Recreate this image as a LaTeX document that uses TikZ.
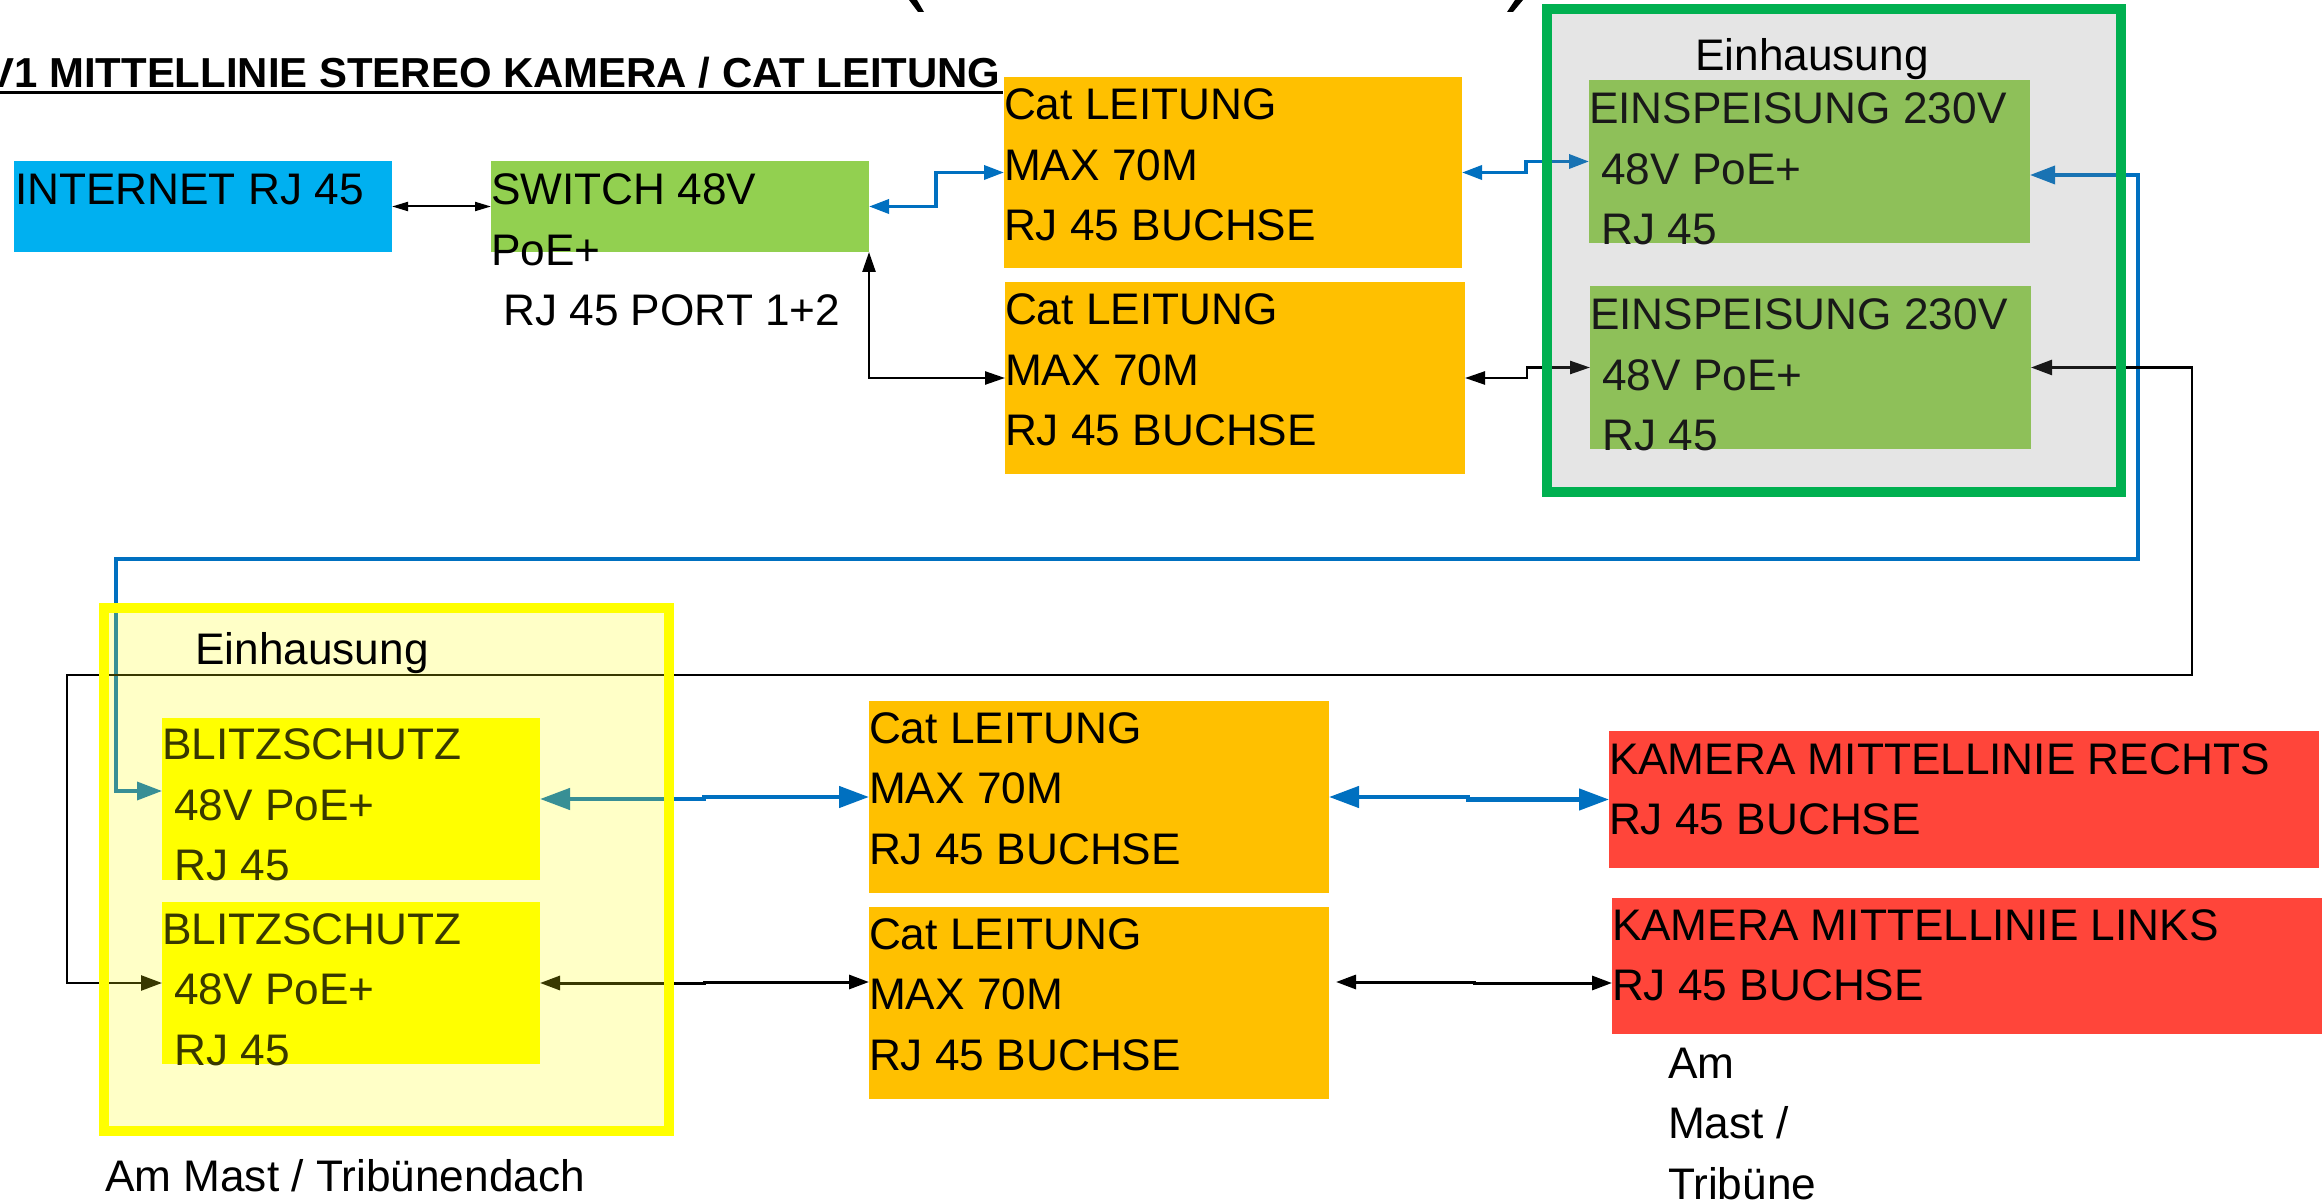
\documentclass[tikz,border=0pt]{standalone}
\usepackage{fontspec}
\setmainfont{Liberation Sans}
\usetikzlibrary{arrows.meta,calc}
\definecolor{ibl}{HTML}{00B0F0}
\definecolor{sgreen}{HTML}{92D050}
\definecolor{corange}{HTML}{FFC000}
\definecolor{kred}{HTML}{FF453A}
\definecolor{lblue}{HTML}{0070C0}
\definecolor{egreen}{HTML}{00B050}
\definecolor{eyellow}{HTML}{FFFF00}
\newcommand{\ml}[1]{\begin{tabular}[t]{@{}l@{}}#1\end{tabular}}
\begin{document}
\begin{tikzpicture}[x=0.5pt,y=-0.5pt,
  box/.style={anchor=north west, inner sep=0pt, outer sep=0pt, draw=none},
  txt/.style={anchor=base west, inner sep=0pt, outer sep=0pt, font=\fontsize{22.1}{30.25}\selectfont},
  lab/.style={anchor=base, inner sep=0pt, outer sep=0pt, font=\fontsize{22.1}{30.25}\selectfont},
  thinblk/.style={draw=black, line width=1pt, <->, >={Triangle[length=8pt,width=4.5pt]}},
  blk/.style={draw=black, line width=1.25pt, <->, >={Triangle[length=10pt,width=6.5pt]}},
  blu/.style={draw=lblue, line width=1.75pt, <->, >={Triangle[length=10pt,width=7pt]}},
  blubig/.style={draw=lblue, line width=1.75pt, <->, >={Triangle[length=12.5pt,width=9pt]}},
  blkbig/.style={draw=black, line width=1.25pt, <->, >={Triangle[length=10.5pt,width=7.5pt]}},
  bluthick/.style={draw=lblue, line width=2.25pt, <->, >={Triangle[length=15pt,width=10.5pt]}},
  blkmid/.style={draw=black, line width=1.5pt, <->, >={Triangle[length=10pt,width=7pt]}},
  encl/.style={anchor=north west, inner sep=0pt, outer sep=0pt, line width=5pt, fill opacity=0.2, draw opacity=1}
]
\clip (0,0) rectangle (2323,1202);
\useasboundingbox (0,0) rectangle (2323,1202);
\fill[white] (0,0) rectangle (2323,1202);

% title fragments
\fill (909,0) -- (917,0) -- (924,12) -- (918,12) -- cycle;
\fill (1515,0) -- (1523,0) -- (1513,12) -- (1507,12) -- cycle;
\node[anchor=base east, inner sep=0pt, font=\bfseries\fontsize{20.95}{25}\selectfont] (title) at (1001,88) {V1 MITTELLINIE STEREO KAMERA / CAT LEITUNG};
\draw[line width=1.85pt] ($(title.base west)+(0,4.5)$) -- ($(title.base east)+(2,4.5)$);

% boxes
\node[box, fill=ibl, minimum width=189pt, minimum height=45.5pt] (internet) at (14,161) {};
\node[box, fill=sgreen, minimum width=189pt, minimum height=45.5pt] (switch) at (491,161) {};
\node[box, fill=corange, minimum width=229pt, minimum height=95.5pt] (cat1) at (1004,77) {};
\node[box, fill=corange, minimum width=230pt, minimum height=96pt] (cat2) at (1005,282) {};
\node[box, fill=sgreen, minimum width=220.5pt, minimum height=81.5pt] (einsp1) at (1589,80) {};
\node[box, fill=sgreen, minimum width=220.5pt, minimum height=81.5pt] (einsp2) at (1590,286) {};
\node[box, fill=eyellow, minimum width=189pt, minimum height=81pt] (blitz1) at (162,718) {};
\node[box, fill=eyellow, minimum width=189pt, minimum height=81pt] (blitz2) at (162,902) {};
\node[box, fill=corange, minimum width=230pt, minimum height=96pt] (cat3) at (869,701) {};
\node[box, fill=corange, minimum width=230pt, minimum height=96pt] (cat4) at (869,907) {};
\node[box, fill=kred, minimum width=355pt, minimum height=68.5pt] (kamr) at (1609,731) {};
\node[box, fill=kred, minimum width=355pt, minimum height=68pt] (kaml) at (1612,898) {};

% texts
\node[txt] (internett) at (15,205) {\ml{INTERNET RJ 45}};
\node[txt] (switcht) at (491,205) {\ml{SWITCH 48V\\PoE+\\\ RJ 45 PORT 1+2}};
\node[txt] (cat1t) at (1004,120) {\ml{Cat LEITUNG\\MAX 70M\\RJ 45 BUCHSE}};
\node[txt] (cat2t) at (1005,325) {\ml{Cat LEITUNG\\MAX 70M\\RJ 45 BUCHSE}};
\node[txt] (einsp1t) at (1589,124) {\ml{EINSPEISUNG 230V\\\ 48V PoE+\\\ RJ 45}};
\node[txt] (einsp2t) at (1590,330) {\ml{EINSPEISUNG 230V\\\ 48V PoE+\\\ RJ 45}};
\node[txt] (blitz1t) at (162,760) {\ml{BLITZSCHUTZ\\\ 48V PoE+\\\ RJ 45}};
\node[txt] (blitz2t) at (162,944) {\ml{BLITZSCHUTZ\\\ 48V PoE+\\\ RJ 45}};
\node[txt] (cat3t) at (869,743) {\ml{Cat LEITUNG\\MAX 70M\\RJ 45 BUCHSE}};
\node[txt] (cat4t) at (869,949) {\ml{Cat LEITUNG\\MAX 70M\\RJ 45 BUCHSE}};
\node[txt] (kamrt) at (1609,774) {\ml{KAMERA MITTELLINIE RECHTS\\RJ 45 BUCHSE}};
\node[txt] (kamlt) at (1612,940) {\ml{KAMERA MITTELLINIE LINKS\\RJ 45 BUCHSE}};

% connectors
\draw[thinblk] (internet.east) -- (switch.west);
\draw[blu] (switch.east) -- ++(67,0) |- (cat1.west);
\draw[blk] (switch.south east) |- (cat2.west);
\draw[blu] (cat1.east) -- ++(64,0) |- (einsp1.west);
\draw[blk] (cat2.east) -- ++(62,0) |- (einsp2.west);
\coordinate (fturn) at (2138,559);
\coordinate (fdown) at (116,791);
\draw[blubig] ($(einsp1.east)+(0,13.5)$) -| (fturn) -| (fdown) -- ($(blitz1.west)+(0,-8)$);
\coordinate (gturn) at (2192,675);
\coordinate (gdown) at (67,983);
\draw[blkbig] (einsp2.east) -| (gturn) -| (gdown) -- (blitz2.west);
\draw[bluthick] (blitz1.east) -- ++(164,0) |- (cat3.west);
\draw[bluthick] (cat3.east) -- ++(139,0) |- (kamr.west);
\draw[blkmid] (blitz2.east) -- ++(164,0) |- ($(cat4.west)+(0,-21)$);
\draw[blkmid] ($(cat4.east)+(7,-21)$) -- ++(138,0) |- ($(kaml.west)+(0,17)$);

% enclosures (translucent overlays)
\node[encl, draw=egreen, fill=gray, minimum width=287pt, minimum height=241.5pt] (enc1) at (1547,9) {};
\node[encl, draw=eyellow, fill=eyellow, fill opacity=0.22, minimum width=282.5pt, minimum height=261.5pt] (enc2) at (104,608) {};
\node[lab] (enc1lab) at (1812,71) {Einhausung};
\node[lab] (enc2lab) at (312,665) {Einhausung};

% location notes
\node[txt] (loc1) at (105,1191) {\ml{Am Mast / Tribünendach}};
\node[txt] (loc2) at (1668,1078) {\ml{Am\\Mast /\\Tribüne}};
\end{tikzpicture}
\end{document}
